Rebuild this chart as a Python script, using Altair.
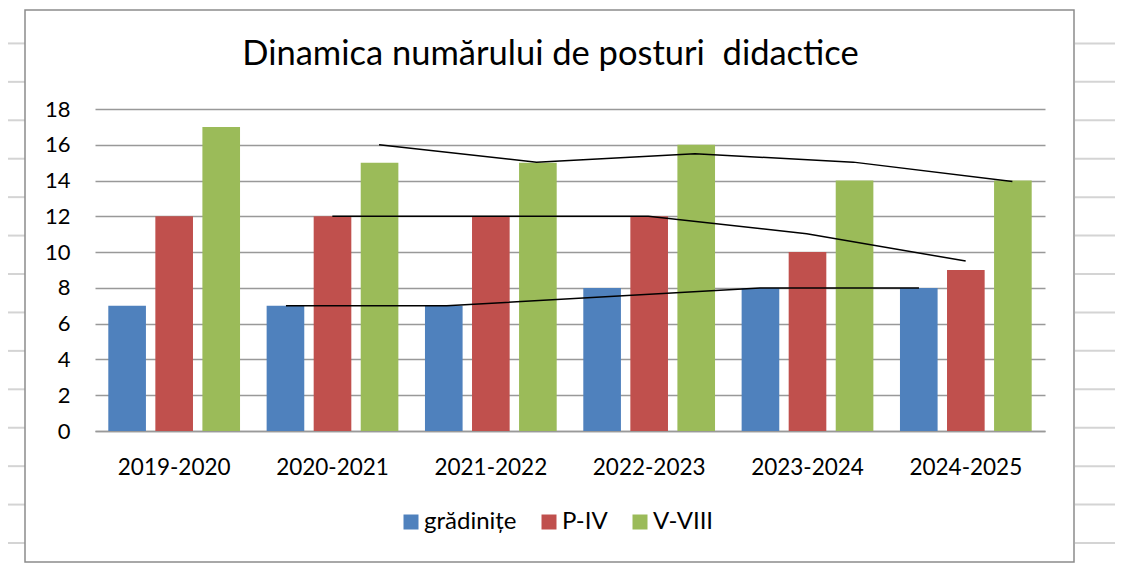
import altair as alt
import pandas as pd

# ---- data ----
years = ["2019-2020", "2020-2021", "2021-2022", "2022-2023", "2023-2024", "2024-2025"]
series = ["grădinițe", "P-IV", "V-VIII"]
gradinite = [7, 7, 7, 8, 8, 8]
p_iv = [12, 12, 12, 12, 10, 9]
v_viii = [17, 15, 15, 16, 14, 14]
colors = ["#4F81BD", "#C0504D", "#9BBB59"]
y_ticks = [0, 2, 4, 6, 8, 10, 12, 14, 16, 18]

# hand-drawn trend lines (x in category units: 0 = left edge of plot, 6 = right edge)
trend_v_x = [1.794, 2.789, 3.789, 4.789, 5.794]
trend_v_y = [16.0, 15.03, 15.5, 15.03, 13.95]
trend_p_x = [1.499, 3.495, 4.495, 5.499]
trend_p_y = [12.0, 12.0, 11.03, 9.5]
trend_g_x = [1.206, 2.221, 4.2, 5.204]
trend_g_y = [7.0, 7.0, 8.0, 8.0]

title_text = "Dinamica numărului de posturi\u00a0 didactice"

FONT = "Lato"
W, H = 950, 322
PAD_L, PAD_T, PAD_R, PAD_B = 87, 101, 70, 133
OX, OY = 8 + PAD_L, 8 + PAD_T  # page position of plot origin

rows = []
for i, yr in enumerate(years):
    for s, vals in zip(series, [gradinite, p_iv, v_viii]):
        rows.append({"an": yr, "nivel": s, "posturi": vals[i]})
df = pd.DataFrame(rows)

trows = []
for name, xs, ys in [("V-VIII", trend_v_x, trend_v_y), ("P-IV", trend_p_x, trend_p_y),
                     ("grădinițe", trend_g_x, trend_g_y)]:
    for k, (a, b) in enumerate(zip(xs, ys)):
        trows.append({"serie": name, "pos": a, "val": b, "ord": k})
tdf = pd.DataFrame(trows)

# spreadsheet grid decoration (page pixel rows), shown outside the chart frame
row_h = 38.43
sheet_df = pd.DataFrame({"py": [5 + row_h * k - OY for k in range(1, 15)]})

sheet_left = alt.Chart(sheet_df).mark_rule(color="#D4D4D4", strokeWidth=2).encode(
    y=alt.Y("py:Q", scale=None, axis=None),
    x=alt.value(8 - OX), x2=alt.value(25 - OX),
)
sheet_right = alt.Chart(sheet_df).mark_rule(color="#D4D4D4", strokeWidth=2).encode(
    y=alt.Y("py:Q", scale=None, axis=None),
    x=alt.value(1075 - OX), x2=alt.value(1115 - OX),
)

frame = alt.Chart(alt.Data(values=[{}])).mark_rect(
    fillOpacity=0, stroke="#8C8C8C", strokeWidth=1.5
).encode(
    x=alt.value(25 - OX), x2=alt.value(1074 - OX),
    y=alt.value(10 - OY), y2=alt.value(562 - OY),
)

y_axis = alt.Axis(title=None, values=y_ticks, ticks=False, domain=False,
                  gridColor="#999999", gridWidth=1.3, labelFont=FONT,
                  labelFontSize=22, labelColor="black", labelPadding=25,
                  labelOverlap=False)
y_scale = alt.Scale(domain=[0, 18], nice=False)

bars = alt.Chart(df).mark_bar().encode(
    x=alt.X("an:N", sort=years,
            scale=alt.Scale(paddingInner=0.168, paddingOuter=0.084),
            axis=alt.Axis(title=None, labelAngle=0, labelFont=FONT, labelFontSize=22.5,
                          labelColor="black", ticks=False, domainColor="#999999",
                          domainWidth=1.5, labelPadding=25, grid=False)),
    xOffset=alt.XOffset("nivel:N", sort=series,
                        scale=alt.Scale(paddingInner=0.2, paddingOuter=0)),
    y=alt.Y("posturi:Q", scale=y_scale, axis=y_axis),
    color=alt.Color("nivel:N", sort=series,
                    scale=alt.Scale(domain=series, range=colors),
                    legend=alt.Legend(title=None, orient="none", legendX=399 - OX,
                                      legendY=522 - OY - 12, direction="horizontal",
                                      symbolType="square", symbolSize=225,
                                      symbolStrokeWidth=0, labelFont=FONT,
                                      labelFontSize=24, labelColor="black",
                                      columnPadding=20, labelOffset=1)),
)

lines = alt.Chart(tdf).mark_line(color="black", strokeWidth=1.5).encode(
    x=alt.X("pos:Q", scale=alt.Scale(domain=[0, 6], nice=False, zero=False), axis=None),
    y=alt.Y("val:Q", scale=y_scale, axis=y_axis),
    detail="serie:N",
    order="ord:Q",
)

title = alt.Chart(alt.Data(values=[{"t": title_text}])).mark_text(
    font=FONT, fontSize=34.5, align="center", baseline="alphabetic", color="black"
).encode(
    text="t:N", x=alt.value(550.5 - OX), y=alt.value(65 - OY),
)

chart = alt.layer(sheet_left, sheet_right, frame, bars, lines, title).resolve_scale(
    x="independent"
).properties(
    width=W, height=H,
    padding={"left": PAD_L, "top": PAD_T, "right": PAD_R, "bottom": PAD_B},
    autosize=alt.AutoSizeParams(type="none"),
    background="white",
).configure_view(stroke=None)

chart.save("out.html", embed_options={"renderer": "svg", "actions": False})
